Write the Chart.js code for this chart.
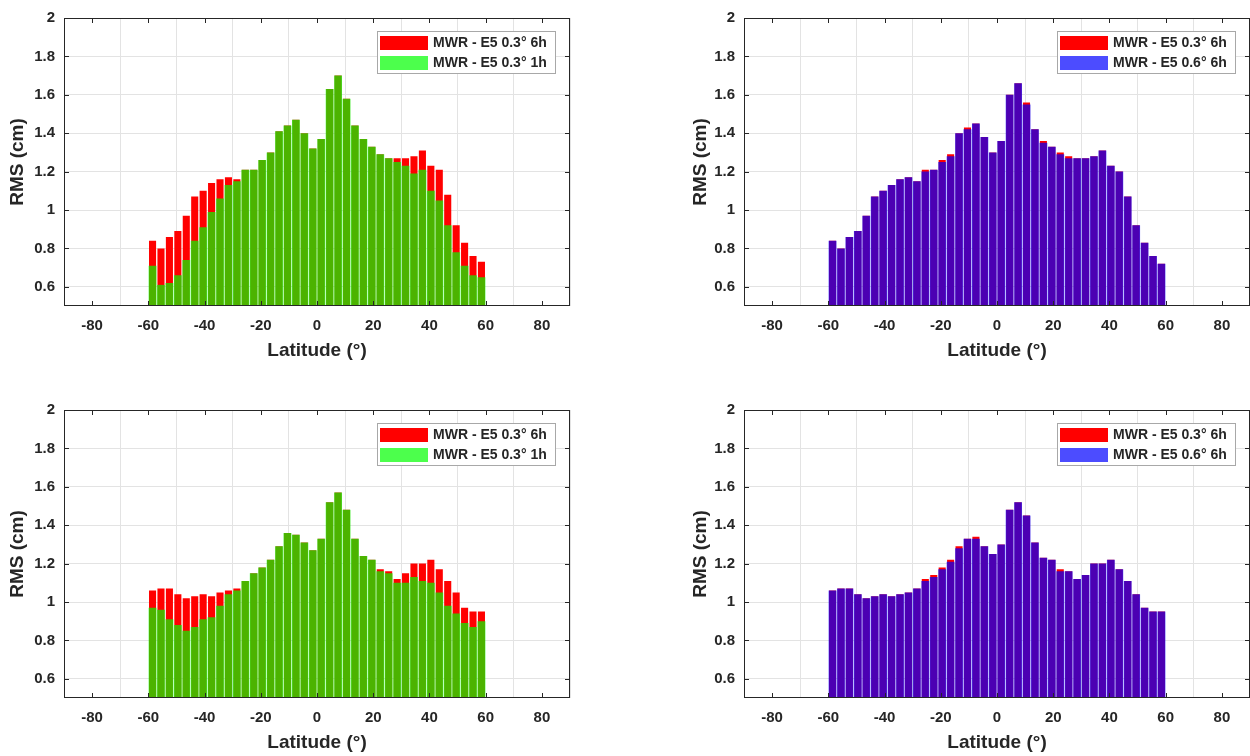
<!DOCTYPE html>
<html>
<head>
<meta charset="utf-8">
<script src="https://cdn.jsdelivr.net/npm/chart.js@4.4.1/dist/chart.umd.min.js"></script>
<style>
  body { margin: 0; background: #fff; width: 1250px; height: 756px; position: relative; overflow: hidden; }
  canvas { position: absolute; }
</style>
</head>
<body>
<canvas id="p1" width="590" height="378" style="left:0;top:0"></canvas>
<canvas id="p2" width="570" height="378" style="left:680px;top:0"></canvas>
<canvas id="p3" width="590" height="378" style="left:0;top:392px"></canvas>
<canvas id="p4" width="570" height="378" style="left:680px;top:392px"></canvas>
<script>
// latitude bin centres (3 deg bins)
const lat = [-58.5, -55.5, -52.5, -49.5, -46.5, -43.5, -40.5, -37.5, -34.5, -31.5,
             -28.5, -25.5, -22.5, -19.5, -16.5, -13.5, -10.5, -7.5, -4.5, -1.5,
             1.5, 4.5, 7.5, 10.5, 13.5, 16.5, 19.5, 22.5, 25.5, 28.5,
             31.5, 34.5, 37.5, 40.5, 43.5, 46.5, 49.5, 52.5, 55.5, 58.5]

const xTicks = [-80, -60, -40, -20, 0, 20, 40, 60, 80]
const yTicks = [0.6, 0.8, 1, 1.2, 1.4, 1.6, 1.8, 2]

// top left
const topLeft6h = [0.84, 0.80, 0.86, 0.89, 0.97, 1.07, 1.10, 1.14, 1.16, 1.17,
                   1.16, 1.21, 1.21, 1.26, 1.30, 1.41, 1.44, 1.47, 1.40, 1.32,
                   1.37, 1.63, 1.70, 1.58, 1.44, 1.37, 1.33, 1.29, 1.27, 1.27,
                   1.27, 1.28, 1.31, 1.23, 1.21, 1.08, 0.92, 0.83, 0.76, 0.73]
const topLeft1h = [0.71, 0.61, 0.62, 0.66, 0.74, 0.84, 0.91, 0.99, 1.06, 1.13,
                   1.15, 1.21, 1.21, 1.26, 1.30, 1.41, 1.44, 1.47, 1.40, 1.32,
                   1.37, 1.63, 1.70, 1.58, 1.44, 1.37, 1.33, 1.29, 1.27, 1.25,
                   1.23, 1.19, 1.21, 1.10, 1.05, 0.92, 0.78, 0.71, 0.66, 0.65]

// top right
const topRight6h = [0.84, 0.80, 0.86, 0.89, 0.97, 1.07, 1.10, 1.13, 1.16, 1.17,
                    1.15, 1.21, 1.21, 1.26, 1.29, 1.40, 1.43, 1.45, 1.38, 1.30,
                    1.36, 1.60, 1.66, 1.56, 1.42, 1.36, 1.33, 1.30, 1.28, 1.27,
                    1.27, 1.28, 1.31, 1.23, 1.20, 1.07, 0.92, 0.83, 0.76, 0.72]
const topRight06 = [0.84, 0.80, 0.86, 0.89, 0.97, 1.07, 1.10, 1.13, 1.16, 1.17,
                    1.15, 1.20, 1.21, 1.25, 1.28, 1.40, 1.42, 1.45, 1.38, 1.30,
                    1.36, 1.60, 1.66, 1.55, 1.42, 1.35, 1.33, 1.29, 1.27, 1.27,
                    1.27, 1.28, 1.31, 1.23, 1.20, 1.07, 0.92, 0.83, 0.76, 0.72]

// bottom left
const botLeft6h = [1.06, 1.07, 1.07, 1.04, 1.02, 1.03, 1.04, 1.03, 1.05, 1.06,
                   1.07, 1.11, 1.15, 1.18, 1.22, 1.29, 1.36, 1.35, 1.31, 1.27,
                   1.33, 1.52, 1.57, 1.48, 1.33, 1.24, 1.22, 1.17, 1.16, 1.12,
                   1.15, 1.20, 1.20, 1.22, 1.17, 1.11, 1.05, 0.97, 0.95, 0.95]
const botLeft1h = [0.97, 0.96, 0.91, 0.88, 0.85, 0.87, 0.91, 0.92, 0.98, 1.04,
                   1.06, 1.11, 1.15, 1.18, 1.22, 1.29, 1.36, 1.35, 1.31, 1.27,
                   1.33, 1.52, 1.57, 1.48, 1.33, 1.24, 1.22, 1.16, 1.15, 1.10,
                   1.10, 1.13, 1.11, 1.10, 1.05, 0.98, 0.94, 0.89, 0.87, 0.90]

// bottom right
const botRight6h = [1.06, 1.07, 1.07, 1.04, 1.02, 1.03, 1.04, 1.03, 1.04, 1.05,
                    1.07, 1.12, 1.14, 1.18, 1.22, 1.29, 1.33, 1.34, 1.29, 1.25,
                    1.30, 1.48, 1.52, 1.45, 1.31, 1.23, 1.22, 1.17, 1.16, 1.12,
                    1.14, 1.20, 1.20, 1.22, 1.17, 1.11, 1.04, 0.97, 0.95, 0.95]
const botRight06 = [1.06, 1.07, 1.07, 1.04, 1.02, 1.03, 1.04, 1.03, 1.04, 1.05,
                    1.07, 1.11, 1.13, 1.17, 1.21, 1.28, 1.33, 1.33, 1.29, 1.25,
                    1.30, 1.48, 1.52, 1.45, 1.31, 1.23, 1.22, 1.16, 1.16, 1.12,
                    1.14, 1.20, 1.20, 1.22, 1.17, 1.11, 1.04, 0.97, 0.95, 0.95]

const label6h = 'MWR - E5 0.3\u00b0 6h'
const label1h = 'MWR - E5 0.3\u00b0 1h'
const label06 = 'MWR - E5 0.6\u00b0 6h'

const RED = '#ff0000'
const GREEN = 'rgba(0, 255, 0, 0.7)'
const BLUE = 'rgba(0, 0, 255, 0.7)'
const INK = '#262626'
const FONT = '"Liberation Sans", Arial, Helvetica, sans-serif'

Chart.defaults.font.family = FONT
Chart.defaults.color = INK

// matlab style box, inner ticks and legend
const boxPlugin = {
    id: 'boxPlugin',
    afterDraw(chart) {
        const {ctx, chartArea: a} = chart
        const xs = chart.scales.x
        const ys = chart.scales.y
        ctx.save()
        ctx.strokeStyle = INK
        ctx.lineWidth = 1
        ctx.beginPath()
        xs.ticks.forEach(t => {
            const px = Math.round(xs.getPixelForValue(t.value)) + 0.5
            ctx.moveTo(px, a.bottom); ctx.lineTo(px, a.bottom - 5)
            ctx.moveTo(px, a.top); ctx.lineTo(px, a.top + 5)
        })
        ys.ticks.forEach(t => {
            const py = Math.round(ys.getPixelForValue(t.value)) + 0.5
            ctx.moveTo(a.left, py); ctx.lineTo(a.left + 5, py)
            ctx.moveTo(a.right, py); ctx.lineTo(a.right - 5, py)
        })
        ctx.stroke()
        ctx.strokeRect(Math.round(a.left) + 0.5, Math.round(a.top) + 0.5,
                       Math.round(a.width) - 1, Math.round(a.height) - 1)

        ctx.font = 'bold 14px ' + FONT
        const sets = chart.data.datasets
        const textW = Math.max(...sets.map(d => ctx.measureText(d.label).width))
        const w = Math.round(3 + 48 + 5 + textW + 8)
        const h = 42
        const bx = Math.round(a.right - 15 - w)
        const by = Math.round(a.top + 13)
        ctx.fillStyle = '#fff'
        ctx.fillRect(bx, by, w, h)
        ctx.strokeStyle = '#a8a8a8'
        ctx.strokeRect(bx + 0.5, by + 0.5, w, h)
        sets.forEach((d, i) => {
            const sy = by + 5 + i * 20
            ctx.fillStyle = d.backgroundColor
            ctx.fillRect(bx + 3, sy, 48, 14)
            ctx.fillStyle = INK
            ctx.textBaseline = 'middle'
            ctx.textAlign = 'left'
            ctx.fillText(d.label, bx + 56, sy + 7.5)
        })
        ctx.restore()
    }
}

function makePanel(id, back, front, frontLabel, frontColor, padRight, titlePad) {
    const toPts = arr => arr.map((v, i) => ({x: lat[i], y: v}))
    return new Chart(document.getElementById(id), {
        type: 'bar',
        data: {
            datasets: [{
                label: label6h,
                data: toPts(back),
                backgroundColor: RED,
                barPercentage: 0.84,
                categoryPercentage: 1,
                order: 1
            }, {
                label: frontLabel,
                data: toPts(front),
                backgroundColor: frontColor,
                barPercentage: 0.93,
                categoryPercentage: 1,
                order: 0
            }]
        },
        options: {
            responsive: false,
            animation: false,
            layout: {padding: {left: 0, right: padRight, top: 15, bottom: 0}},
            datasets: {bar: {grouped: false, borderWidth: 0}},
            plugins: {legend: {display: false}, tooltip: {enabled: false}},
            scales: {
                x: {
                    type: 'linear',
                    min: -90,
                    max: 90,
                    offset: false,
                    afterBuildTicks: axis => { axis.ticks = xTicks.map(v => ({value: v})) },
                    afterFit: axis => { axis.height = 72 },
                    grid: {color: '#e3e3e3', drawTicks: false},
                    border: {display: false},
                    ticks: {
                        autoSkip: false,
                        maxRotation: 0,
                        padding: 11,
                        color: INK,
                        font: {size: 15, weight: 'bold'}
                    },
                    title: {
                        display: true,
                        text: 'Latitude (\u00b0)',
                        color: INK,
                        font: {size: 19, weight: 'bold'},
                        padding: {top: 0, bottom: 16}
                    }
                },
                y: {
                    min: 0.5,
                    max: 2,
                    afterBuildTicks: axis => { axis.ticks = yTicks.map(v => ({value: v})) },
                    afterFit: axis => { axis.width = 64 },
                    grid: {color: '#e3e3e3', drawTicks: false},
                    border: {display: false},
                    ticks: {
                        padding: 9,
                        color: INK,
                        font: {size: 15, weight: 'bold'},
                        callback: v => String(+v.toFixed(1))
                    },
                    title: {
                        display: true,
                        text: 'RMS (cm)',
                        color: INK,
                        font: {size: 19, weight: 'bold'},
                        padding: {top: titlePad, bottom: 0}
                    }
                }
            }
        },
        plugins: [boxPlugin]
    })
}

makePanel('p1', topLeft6h, topLeft1h, label1h, GREEN, 20, 6)
makePanel('p2', topRight6h, topRight06, label06, BLUE, 0, 9)
makePanel('p3', botLeft6h, botLeft1h, label1h, GREEN, 20, 6)
makePanel('p4', botRight6h, botRight06, label06, BLUE, 0, 9)
</script>
</body>
</html>
